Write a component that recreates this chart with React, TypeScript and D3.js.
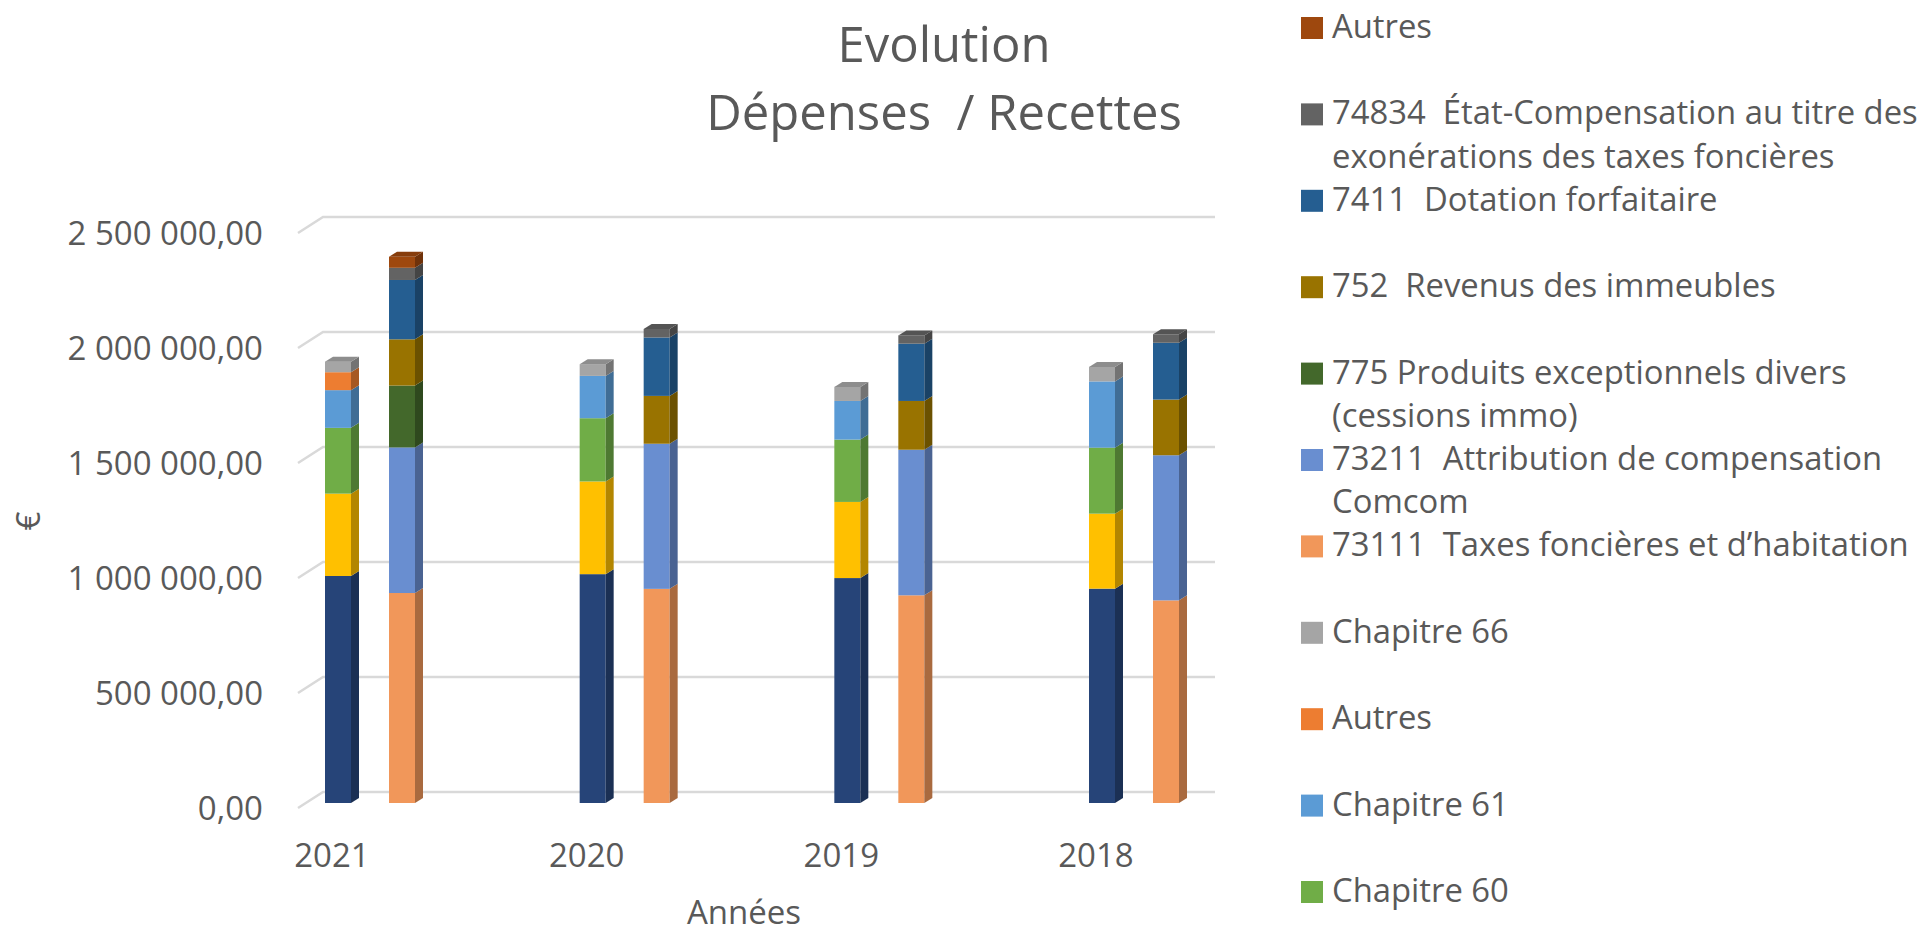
import { useEffect } from 'react';
import * as d3 from 'd3';

const years = ['2021', '2020', '2019', '2018'];

// Dépenses, bottom to top
const depNames = ['Chapitre 012', 'Chapitre 65', 'Chapitre 60', 'Chapitre 61', 'Autres', 'Chapitre 66'];
const depColors = ['#264478', '#ffc000', '#70ad47', '#5b9bd5', '#ed7d31', '#a5a5a5'];
const depValues = [
  [987000, 995000, 978000, 932000],
  [358000, 403000, 331000, 326000],
  [286000, 275000, 271000, 287000],
  [164000, 184000, 168000, 288000],
  [78000, 0, 0, 0],
  [46000, 51000, 61000, 63000],
];

// Recettes, bottom to top
const recNames = [
  '73111  Taxes foncières et d’habitation',
  '73211  Attribution de compensation Comcom',
  '775 Produits exceptionnels divers (cessions immo)',
  '752  Revenus des immeubles',
  '7411  Dotation forfaitaire',
  '74834  État-Compensation au titre des exonérations des taxes foncières',
  'Autres',
];
const recColors = ['#f1975a', '#698ed0', '#43682b', '#997300', '#255e91', '#636363', '#9e480e'];
const recValues = [
  [913000, 931000, 903000, 881000],
  [633000, 631000, 633000, 631000],
  [269000, 0, 0, 0],
  [201000, 208000, 212000, 242000],
  [258000, 254000, 249000, 247000],
  [53000, 37000, 36000, 37000],
  [48000, 0, 0, 0],
];

// legend lines as wrapped in the original (top entry first)
const legendLines = [
  ['Autres'],
  ['74834  État-Compensation au titre des', 'exonérations des taxes foncières'],
  ['7411  Dotation forfaitaire'],
  ['752  Revenus des immeubles'],
  ['775 Produits exceptionnels divers', '(cessions immo)'],
  ['73211  Attribution de compensation', 'Comcom'],
  ['73111  Taxes foncières et d’habitation'],
  ['Chapitre 66'],
  ['Autres'],
  ['Chapitre 61'],
  ['Chapitre 60'],
  ['Chapitre 65'],
  ['Chapitre 012'],
];
const legendColors = [...recColors].reverse().concat([...depColors].reverse());

const yTicks = [0, 500000, 1000000, 1500000, 2000000, 2500000];

const W = 1924;
const H = 934;
const FONT = '"Open Sans", sans-serif';
const TXT = '#595959';

const locale = d3.formatLocale({ decimal: ',', thousands: ' ', grouping: [3], currency: ['', '€'] });
const fmt = locale.format(',.2f');

export default function App() {
  useEffect(() => {
    document.body.style.margin = '0';
    document.body.style.overflow = 'hidden';
  }, []);

  // back wall and front face scales
  const yBack = d3.scaleLinear().domain([0, 2500000]).range([792, 217]);
  const yFront = d3.scaleLinear().domain([0, 2500000]).range([803, 228]);
  const yEdge = d3.scaleLinear().domain([0, 2500000]).range([808, 233]);
  const x = d3.scalePoint<string>().domain(years).range([325, 1089]);

  const barW = 26;
  const recOffset = 64;
  const dx = 8;
  const dy = -5;

  const wallLeft = 323;
  const wallRight = 1215;
  const edgeLeft = 298;

  const stacks: { x0: number; segs: { v0: number; v1: number; color: string }[] }[] = [];
  years.forEach((yr, i) => {
    const build = (vals: number[][], colors: string[], x0: number) => {
      let acc = 0;
      const segs: { v0: number; v1: number; color: string }[] = [];
      vals.forEach((s, k) => {
        if (s[i] > 0) {
          segs.push({ v0: acc, v1: acc + s[i], color: colors[k] });
          acc += s[i];
        }
      });
      stacks.push({ x0, segs });
    };
    build(depValues, depColors, x(yr)!);
    build(recValues, recColors, x(yr)! + recOffset);
  });

  const lineH = 43.2;
  // only the legend entries that fit in the chart area are drawn (as in the original)
  const legendShown = legendLines
    .map((lines, i) => ({ lines, color: legendColors[i], base: 38 + lineH * 2 * i }))
    .filter((d) => d.base + 10 < H);

  return (
    <svg width={W} height={H} style={{ display: 'block', background: '#fff' }} fontFamily={FONT}>
      {/* title */}
      <text x={944} y={62} textAnchor="middle" fontSize={49} fill={TXT}>Evolution</text>
      <text x={944} y={130} textAnchor="middle" fontSize={49} fill={TXT} style={{ whiteSpace: 'pre' }}>Dépenses  / Recettes</text>

      {/* gridlines */}
      {yTicks.map((t) => (
        <g key={t}>
          <polyline
            points={`${edgeLeft},${yEdge(t)} ${wallLeft},${yBack(t)} ${wallRight},${yBack(t)}`}
            fill="none"
            stroke="#d9d9d9"
            strokeWidth={2.5}
          />
          <text x={263} y={yEdge(t) + 12} textAnchor="end" fontSize={33} fill={TXT}>{fmt(t)}</text>
        </g>
      ))}

      {/* bars */}
      {stacks.map((st, si) => (
        <g key={si}>
          {st.segs.map((sg, k) => {
            const yt = yFront(sg.v1);
            const yb = yFront(sg.v0);
            const side = d3.color(sg.color)!.darker(1).formatHex();
            const top = d3.color(sg.color)!.darker(0.45).formatHex();
            const isTop = k === st.segs.length - 1;
            return (
              <g key={k}>
                <rect x={st.x0} y={yt} width={barW} height={yb - yt} fill={sg.color} />
                <polygon
                  points={`${st.x0 + barW},${yb} ${st.x0 + barW},${yt} ${st.x0 + barW + dx},${yt + dy} ${st.x0 + barW + dx},${yb + dy}`}
                  fill={side}
                />
                {isTop && (
                  <polygon
                    points={`${st.x0},${yt} ${st.x0 + dx},${yt + dy} ${st.x0 + barW + dx},${yt + dy} ${st.x0 + barW},${yt}`}
                    fill={top}
                  />
                )}
              </g>
            );
          })}
        </g>
      ))}

      {/* x labels */}
      {years.map((yr) => (
        <text key={yr} x={x(yr)! + 7} y={867} textAnchor="middle" fontSize={33} fill={TXT}>{yr}</text>
      ))}

      {/* axis titles */}
      <text x={744} y={924} textAnchor="middle" fontSize={33} fill={TXT}>Années</text>
      <text transform="translate(40,521) rotate(-90)" textAnchor="middle" fontSize={33} fill={TXT}>€</text>

      {/* legend */}
      {legendShown.map((d, i) => (
        <g key={i}>
          <rect x={1301} y={d.base - 21} width={22} height={22} fill={d.color} />
          {d.lines.map((l, j) => (
            <text key={j} x={1332} y={d.base + j * lineH} fontSize={32.8} fill={TXT} style={{ whiteSpace: 'pre' }}>{l}</text>
          ))}
        </g>
      ))}
    </svg>
  );
}
